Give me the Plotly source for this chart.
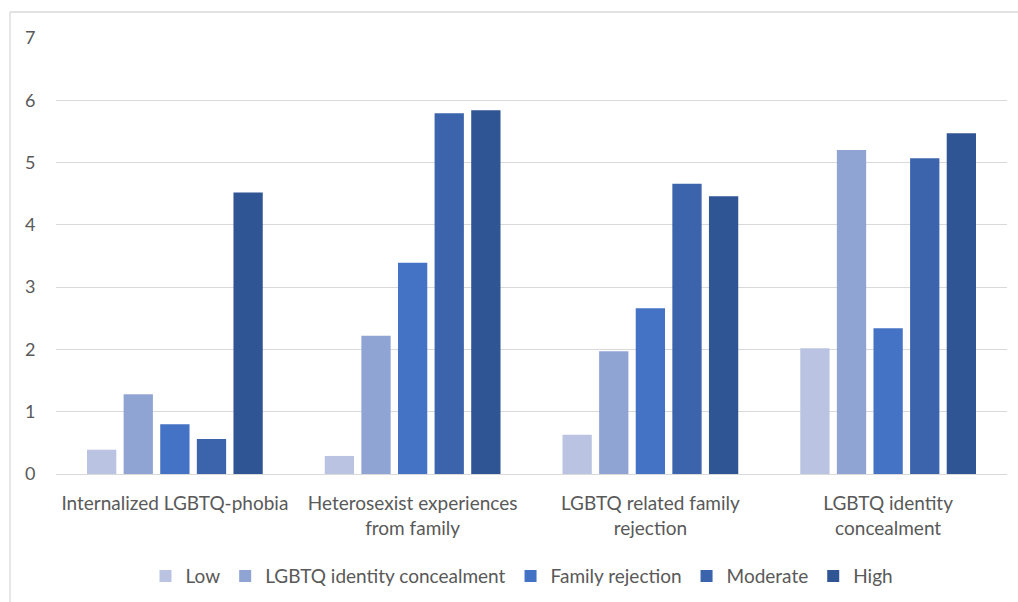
import plotly.graph_objects as go

categories = [
    "Internalized LGBTQ-phobia",
    "Heterosexist experiences<br>from family",
    "LGBTQ related family<br>rejection",
    "LGBTQ identity<br>concealment",
]

series_names = ["Low", "LGBTQ identity concealment", "Family rejection", "Moderate", "High"]

low = [0.39, 0.29, 0.63, 2.02]
identity_concealment = [1.28, 2.22, 1.97, 5.20]
family_rejection = [0.80, 3.39, 2.66, 2.34]
moderate = [0.56, 5.79, 4.66, 5.07]
high = [4.52, 5.84, 4.46, 5.47]

series_values = [low, identity_concealment, family_rejection, moderate, high]
colors = ["#BAC4E2", "#90A4D4", "#4473C5", "#3B64AD", "#305595"]

font_family = "Lato, 'Open Sans', sans-serif"
text_color = "#595959"

fig = go.Figure()
for name, vals, col in zip(series_names, series_values, colors):
    fig.add_trace(go.Bar(name=name, x=categories, y=vals, marker_color=col,
                         marker_line_width=0))

fig.update_layout(
    width=1018, height=602,
    margin=dict(l=56, r=11, t=38, b=128, autoexpand=False),
    paper_bgcolor="white", plot_bgcolor="white",
    barmode="group", bargap=0.23, bargroupgap=0.2,
    font=dict(family=font_family, size=19, color=text_color),
    showlegend=True,
    legend=dict(orientation="h", x=0.49, xanchor="center",
                yref="container", y=0.043, yanchor="middle",
                font=dict(size=19, color=text_color), itemwidth=30,
                traceorder="normal"),
    shapes=[
        dict(type="line", xref="paper", yref="paper", x0=-0.0484, x1=1.1,
             y0=1.0596, y1=1.0596, line=dict(color="#D9D9D9", width=1.3)),
        dict(type="line", xref="paper", yref="paper", x0=-0.0484, x1=-0.0484,
             y0=1.0596, y1=-0.4, line=dict(color="#D9D9D9", width=1.3)),
    ],
)

fig.update_xaxes(showgrid=False, showline=False, ticks="outside", ticklen=12,
                 automargin=False,
                 tickcolor="rgba(0,0,0,0)", tickfont=dict(size=19, color=text_color))
fig.update_yaxes(range=[0, 7], dtick=1, showgrid=True, gridcolor="#D9D9D9",
                 gridwidth=1.3, zeroline=True, zerolinecolor="#D9D9D9",
                 zerolinewidth=1.3, showline=False, ticks="outside", ticklen=16,
                 automargin=False,
                 tickcolor="rgba(0,0,0,0)", tickfont=dict(size=18, color=text_color))

fig.write_html("out.html")
